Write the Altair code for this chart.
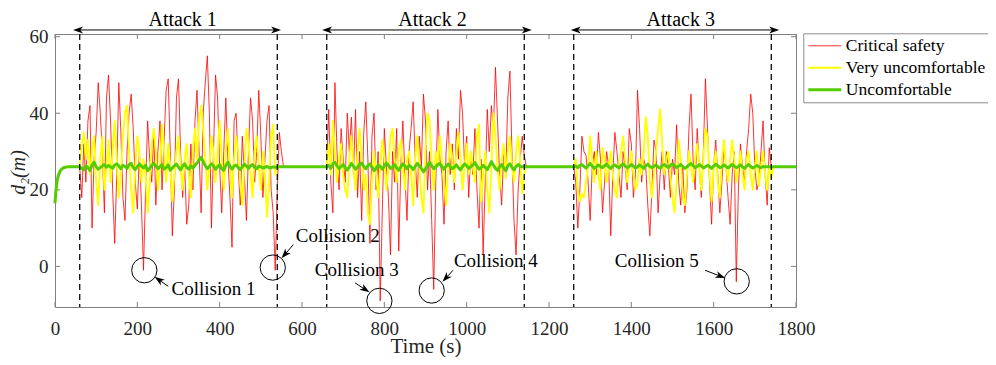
import math
import altair as alt
import pandas as pd

# ------------------------------------------------------------------ data
STEP = 5
SERIES = ["Critical safety", "Very uncomfortable", "Uncomfortable"]
COLORS = ["#ff0000", "#ffff00", "#55cc00"]
WIDTHS = [0.8, 3.0, 3.8]

attack_start = [60, 660, 1260]
attack_end = [540, 1140, 1740]
attack_labels = ["Attack 1", "Attack 2", "Attack 3"]
attack_label_x = [310, 917, 1520]
attack_arrow_x1 = [56, 661, 1265]
attack_arrow_x2 = [537, 1146, 1747]

x_ticks = [0, 200, 400, 600, 800, 1000, 1200, 1400, 1600, 1800]
y_ticks = [0, 20, 40, 60]

# Critical safety (red), one list per attack window, 5 s spacing
red_a1 = [26, 18, 32, 22, 38, 42, 10, 28, 35, 48,
          40, 30, 14, 44, 50, 38, 20, 6, 24, 48,
          35, 18, 12, 30, 40, 45, 36, 22, 15, 30,
          16, -1, 20, 38, 28, 22, 35, 16, 30, 38,
          20, 33, 46, 49, 30, 8, 20, 44, 49, 30,
          18, 26, 11, 16, 32, 20, 38, 46, 30, 14,
          40, 48, 55, 40, 10, 30, 50, 44, 26, 14,
          30, 44, 28, 18, 5, 38, 40, 26, 16, 34,
          24, 12, 30, 44, 38, 22, 30, 46, 34, 18,
          28, 38, 42, 20, 14, -1, 20, 35, 30, 26]
red_a2 = [26, 41, 22, 14, 48, 30, 20, 36, 28, 22,
          40, 30, 39, 24, 41, 18, 30, 12, 35, 43,
          28, 6, 34, 40, 20, 30, -9, 14, 36, 26,
          18, 3, 30, 22, 36, 4, 26, 38, 24, 12,
          30, 36, 43, 28, 18, 34, 26, 45, 38, 20,
          30, 12, -6, 22, 41, 28, 24, 11, 30, 38,
          24, 32, 20, 36, 28, 46, 40, 26, 34, 18,
          30, 24, 36, 20, 10, 28, 3, 22, 41, 30,
          42, 36, 52, 38, 24, 16, 30, 24, 44, 51,
          30, 12, 3, 20, 28, 34, 29, 26]
red_a3 = [26, 22, 10, 20, 34, 30, 29, 22, 12, 26,
          30, 24, 35, 28, 14, 22, 30, 26, 8, 24,
          35, 30, 24, 18, 30, 26, 20, 36, 32, 18,
          24, 46, 36, 22, 28, 26, 16, 8, 20, 33,
          30, 14, 24, 30, 20, 30, 26, 18, 28, 24,
          37, 22, 16, 26, 14, 20, 36, 45, 28, 20,
          36, 26, 18, 30, 49, 36, 22, 11, 26, 33,
          24, 14, 22, 32, 26, 18, 11, 24, 30, -4,
          20, 32, 26, 22, 30, 36, 45, 40, 26, 20,
          22, 30, 38, 24, 16, 31, 26, 26]

# Very uncomfortable (yellow)
yel_a1 = [26, 32, 35, 28, 33, 24, 30, 34, 22, 16,
          28, 34, 20, 26, 33, 22, 30, 38, 28, 18,
          24, 34, 40, 42, 30, 20, 14, 26, 34, 30,
          22, 28, 24, 14, 22, 32, 36, 30, 20, 26,
          37, 30, 22, 32, 26, 17, 24, 30, 34, 26,
          20, 28, 32, 24, 18, 30, 36, 28, 38, 42,
          36, 28, 20, 26, 34, 30, 22, 30, 38, 28,
          20, 30, 36, 26, 18, 28, 34, 30, 22, 16,
          26, 36, 32, 24, 18, 30, 34, 26, 20, 30,
          24, 13, 22, 34, 37, 24, 26, 26]
yel_a2 = [26, 32, 24, 38, 30, 22, 28, 32, 24, 20,
          18, 28, 34, 26, 20, 30, 36, 28, 20, 24,
          14, 11, 22, 30, 24, 18, 26, 33, 28, 20,
          26, 34, 36, 28, 22, 30, 33, 26, 20, 28,
          30, 24, 16, 28, 34, 26, 18, 14, 30, 40,
          38, 28, 20, 30, 26, 34, 28, 22, 16, 26,
          32, 28, 22, 30, 35, 28, 20, 26, 32, 24,
          30, 26, 22, 34, 37, 17, 24, 30, 20, 14,
          26, 40, 34, 26, 20, 28, 32, 23, 30, 34,
          26, 22, 30, 34, 28, 19, 24, 26]
yel_a3 = [26, 28, 20, 17, 19, 18, 22, 26, 34, 28,
          22, 30, 24, 20, 31, 28, 22, 26, 30, 24,
          20, 18, 26, 30, 34, 28, 22, 26, 30, 24,
          20, 22, 28, 24, 30, 39, 34, 22, 18, 24,
          30, 36, 41, 32, 24, 28, 30, 24, 18, 14,
          22, 33, 28, 18, 16, 24, 30, 26, 22, 28,
          32, 26, 20, 28, 36, 34, 24, 17, 26, 30,
          22, 18, 28, 33, 26, 22, 28, 33, 28, 22,
          26, 30, 24, 20, 28, 30, 24, 20, 26, 30,
          21, 26, 30, 24, 20, 26, 23, 26]

# Uncomfortable (green)
green_ramp_t = [0, 2, 4, 6, 8, 10, 13, 16, 20, 25, 30, 40, 50]
green_ramp_v = [16.5, 19.5, 21.5, 22.8, 23.7, 24.3, 25.0, 25.4, 25.7, 25.9, 26.0, 26.0, 26.0]
green_a1 = [26.0, 25.6, 25.2, 26.3, 25.8, 25.0, 26.5, 27.2, 26.0, 25.4,
            25.8, 26.2, 26.6, 25.9, 26.4, 26.0, 25.6, 26.5, 26.8, 26.2,
            25.5, 26.4, 26.1, 25.6, 26.6, 26.9, 25.8, 25.3, 26.1, 26.7,
            26.2, 25.7, 26.4, 25.0, 25.6, 26.4, 26.9, 26.3, 25.5, 26.1,
            26.6, 25.4, 25.8, 26.5, 25.1, 25.7, 26.3, 26.7, 25.9, 25.2,
            26.2, 26.8, 25.8, 25.4, 26.3, 25.7, 26.4, 27.0, 27.8, 28.5,
            27.4, 26.3, 25.5, 26.1, 26.8, 26.2, 25.4, 26.0, 26.6, 25.5,
            25.1, 26.4, 27.2, 26.1, 25.4, 26.2, 26.5, 25.8, 25.3, 26.0,
            26.7, 26.2, 25.6, 26.3, 26.6, 25.9, 25.5, 26.2, 26.0, 25.7,
            25.9, 26.1, 25.8, 25.8, 26.0, 25.9, 26.0, 26.0]
green_a2 = [26.0, 26.4, 25.6, 26.8, 27.2, 26.3, 25.5, 26.1, 26.6, 25.8,
            25.2, 26.0, 26.9, 26.2, 25.4, 25.9, 26.7, 27.0, 26.1, 25.5,
            26.3, 26.8, 25.9, 25.0, 25.6, 26.5, 26.1, 25.4, 26.2, 27.0,
            26.4, 25.6, 25.9, 26.6, 25.7, 25.1, 26.0, 26.8, 26.2, 25.5,
            26.4, 26.0, 25.3, 26.1, 26.9, 26.3, 25.6, 24.7, 25.4, 26.4,
            27.2, 26.3, 25.5, 26.0, 26.6, 26.9, 26.0, 25.4, 26.2, 26.7,
            26.1, 25.5, 25.9, 26.5, 25.8, 25.2, 26.1, 26.8, 26.3, 25.6,
            26.0, 26.5, 27.1, 26.2, 25.4, 25.8, 26.4, 25.9, 25.3, 26.2,
            27.4, 26.5, 25.6, 25.1, 26.0, 26.6, 25.7, 25.0, 26.3, 26.8,
            25.9, 25.2, 26.1, 26.6, 26.0, 26.0, 26.0, 26.0]
green_a3 = [26.0, 26.2, 25.8, 26.4, 26.6, 26.1, 25.7, 26.3, 26.9, 26.2,
            25.6, 26.0, 26.5, 26.1, 25.8, 26.3, 26.7, 26.0, 25.6, 26.2,
            26.5, 26.1, 25.7, 26.4, 26.8, 26.2, 25.8, 26.1, 26.6, 26.2,
            25.7, 26.0, 26.5, 26.1, 25.6, 26.3, 26.7, 26.1, 25.8, 26.2,
            26.5, 26.0, 25.6, 26.3, 26.6, 26.2, 25.8, 26.4, 26.8, 26.3,
            25.8, 26.2, 26.6, 26.1, 25.6, 26.0, 26.5, 26.9, 26.3, 25.8,
            26.1, 26.6, 26.2, 25.7, 26.0, 26.4, 26.1, 25.6, 26.2, 26.7,
            26.3, 25.8, 26.0, 26.5, 26.1, 25.7, 26.2, 26.6, 26.2, 25.8,
            26.1, 26.5, 26.0, 25.6, 26.2, 26.6, 26.1, 25.7, 26.0, 26.4,
            26.0, 25.8, 26.1, 26.0, 26.0, 26.0, 26.0, 26.0]
green_end_t = [1800]
green_end_v = [26.0]

# collision annotations
coll_x = [217, 529, 788, 915, 1656]
coll_y = [-1.0, -0.3, -9.0, -6.3, -3.9]
coll_text = ["Collision 1", "Collision 2", "Collision 3", "Collision 4", "Collision 5"]
coll_text_x = [283, 585, 631, 969, 1360]
coll_text_y = [-5.8, 8.0, -0.9, 1.3, 1.3]
coll_arrow_x1 = [275, 579, 729, 967, 1579]
coll_arrow_y1 = [-5.2, 5.7, -4.3, -1.0, -1.0]
coll_arrow_x2 = [243, 551, 763, 942, 1627]
coll_arrow_y2 = [-2.8, 2.2, -6.7, -3.9, -3.0]

attack_arrow_y = 61.75
attack_text_y = 62.8

# ------------------------------------------------------------------ layout
FONT = "Liberation Serif"
TXT = "#262626"
W, H = 741, 273
Y_MIN, Y_MAX = -10.6, 60.7
PX_X = W / 1800.0
PX_Y = H / (Y_MAX - Y_MIN)

# ------------------------------------------------------------------ frames
def segs(name, lists):
    rows = []
    for k, vals in enumerate(lists):
        for i, v in enumerate(vals):
            rows.append({"t": attack_start[k] + STEP * i, "v": v, "series": name, "seg": k})
    return pd.DataFrame(rows)

df_red = segs(SERIES[0], [red_a1, red_a2, red_a3])
df_yel = segs(SERIES[1], [yel_a1, yel_a2, yel_a3])
g_rows = [{"t": t, "v": v} for t, v in zip(green_ramp_t, green_ramp_v)]
for k, vals in enumerate([green_a1, green_a2, green_a3]):
    g_rows += [{"t": attack_start[k] + STEP * i, "v": v} for i, v in enumerate(vals)]
g_rows += [{"t": t, "v": v} for t, v in zip(green_end_t, green_end_v)]
df_green = pd.DataFrame(g_rows)
df_green["series"] = SERIES[2]
df_green["seg"] = 0

df_dash = pd.DataFrame({"t": attack_start + attack_end})
df_att = pd.DataFrame({"t": attack_arrow_x1, "t2": attack_arrow_x2,
                       "v": [attack_arrow_y] * 3})
df_att_txt = pd.DataFrame({"t": attack_label_x, "v": [attack_text_y] * 3,
                           "label": attack_labels})
df_coll = pd.DataFrame({"t": coll_x, "v": coll_y})
df_coll_txt = pd.DataFrame({"t": coll_text_x, "v": coll_text_y, "label": coll_text})

# arrow heads: rotate towards the tip, centre placed just behind the tip
heads = []
for x1, y1, x2, y2 in zip(coll_arrow_x1, coll_arrow_y1, coll_arrow_x2, coll_arrow_y2):
    dx = (x2 - x1) * PX_X
    dy = -(y2 - y1) * PX_Y
    L = math.hypot(dx, dy)
    ux, uy = dx / L, dy / L
    ang = math.degrees(math.atan2(dx, -dy)) % 360
    heads.append({"t": x2 - 4.5 * ux / PX_X, "v": y2 + 4.5 * uy / PX_Y, "ang": ang})
df_heads = pd.DataFrame(heads)
df_arrows = pd.DataFrame({"t": coll_arrow_x1, "v": coll_arrow_y1,
                          "t2": [h["t"] for h in heads], "v2": [h["v"] for h in heads]})

df_xt = pd.DataFrame({"t": x_ticks})
df_yt = pd.DataFrame({"v": y_ticks})

# ------------------------------------------------------------------ encodings
x_scale = alt.Scale(domain=[0, 1800], nice=False, zero=False)
y_scale = alt.Scale(domain=[Y_MIN, Y_MAX], nice=False, zero=False)
x_axis = alt.Axis(values=x_ticks, title="Time (s)", format="d", labelFlush=False,
                  labelOverlap=False, ticks=False, tickSize=0, domain=False, grid=False,
                  labelPadding=12, labelFontSize=19, titleFontSize=21,
                  labelFont=FONT, titleFont=FONT, titleBaseline="alphabetic",
                  titleY=45)
y_axis = alt.Axis(values=y_ticks, title="d₂(m)", format="d", labelFlush=False,
                  labelOverlap=False, ticks=False, tickSize=0, domain=False, grid=False,
                  labelPadding=7, labelFontSize=19, titleFontSize=20,
                  labelFont=FONT, titleFont=FONT, titleFontStyle="italic",
                  titleX=-27, titleY=138)
X = alt.X("t:Q", scale=x_scale, axis=x_axis)
Y = alt.Y("v:Q", scale=y_scale, axis=y_axis)

legend = alt.Legend(orient="none", legendX=748.3, legendY=-0.7, title=None,
                    direction="vertical", symbolType="stroke", symbolSize=1089,
                    clipHeight=18, rowPadding=4, padding=3.5, labelOffset=3,
                    strokeColor="#8c8c8c", fillColor="white", labelFont=FONT,
                    labelFontSize=17.5, labelColor="black", labelLimit=0)
COLOR = alt.Color("series:N", scale=alt.Scale(domain=SERIES, range=COLORS), legend=legend)
SW = alt.StrokeWidth("series:N", scale=alt.Scale(domain=SERIES, range=WIDTHS), legend=legend)

def line_layer(df):
    return alt.Chart(df).mark_line(strokeJoin="round").encode(
        x=X, y=Y, color=COLOR, strokeWidth=SW, detail="seg:N")

red = line_layer(df_red)
yel = line_layer(df_yel)
grn = line_layer(df_green)

dash = alt.Chart(df_dash).mark_rule(color="#1a1a1a", strokeWidth=1.4,
                                    strokeDash=[6, 4]).encode(x=X)

att_rule = alt.Chart(df_att).mark_rule(color="black", strokeWidth=1).encode(
    x=X, x2="t2:Q", y=Y)
LEFT = "M-1,0 L1,-0.7 L0.45,0 L1,0.7 Z"
RIGHT = "M1,0 L-1,-0.7 L-0.45,0 L-1,0.7 Z"
att_l = alt.Chart(df_att).mark_point(shape=LEFT, filled=True, size=100, color="black",
                                      opacity=1, strokeWidth=0).encode(x=X, y=Y)
att_r = alt.Chart(df_att).mark_point(shape=RIGHT, filled=True, size=100, color="black",
                                      opacity=1, strokeWidth=0).encode(x="t2:Q", y=Y)
att_txt = alt.Chart(df_att_txt).mark_text(font=FONT, fontSize=20, color="black",
                                          baseline="alphabetic", align="center").encode(
    x=X, y=Y, text="label:N")

circ = alt.Chart(df_coll).mark_point(shape="circle", filled=False, size=640,
                                     color="black", strokeWidth=1, opacity=1).encode(x=X, y=Y)
ctxt = alt.Chart(df_coll_txt).mark_text(font=FONT, fontSize=19, color="black",
                                        align="left", baseline="middle").encode(
    x=X, y=Y, text="label:N")
carrow = alt.Chart(df_arrows).mark_rule(color="black", strokeWidth=1).encode(
    x=X, y=Y, x2="t2:Q", y2="v2:Q")
UP = "M0,-1 L0.7,1 L0,0.45 L-0.7,1 Z"
chead = alt.Chart(df_heads).mark_point(shape=UP, filled=True, size=100, color="black",
                                       opacity=1, strokeWidth=0).encode(
    x=X, y=Y, angle=alt.Angle("ang:Q", scale=None))

TK = "#808080"
tick_b = alt.Chart(df_xt).mark_rule(color=TK, strokeWidth=1).encode(
    x=X, y=alt.value(H), y2=alt.value(H - 5))
tick_t = alt.Chart(df_xt).mark_rule(color=TK, strokeWidth=1).encode(
    x=X, y=alt.value(0), y2=alt.value(5))
tick_l = alt.Chart(df_yt).mark_rule(color=TK, strokeWidth=1).encode(
    y=Y, x=alt.value(0), x2=alt.value(5))
tick_r = alt.Chart(df_yt).mark_rule(color=TK, strokeWidth=1).encode(
    y=Y, x=alt.value(W), x2=alt.value(W - 5))

chart = alt.layer(
    tick_b, tick_t, tick_l, tick_r,
    red, yel, grn, dash,
    att_rule, att_l, att_r, att_txt,
    circ, carrow, chead, ctxt,
).properties(
    width=W, height=H,
    autosize=alt.AutoSizeParams(type="none"),
    padding={"left": 47, "top": 26, "right": 192, "bottom": 50},
    background="white",
).configure(
    font=FONT
).configure_view(
    stroke="#808080", strokeWidth=1
).configure_axis(
    labelFont=FONT, titleFont=FONT, labelColor=TXT, titleColor=TXT,
    titleFontWeight="normal",
).configure_legend(
    labelFont=FONT
)

chart.save("out.html", embed_options={"renderer": "svg", "actions": False})
